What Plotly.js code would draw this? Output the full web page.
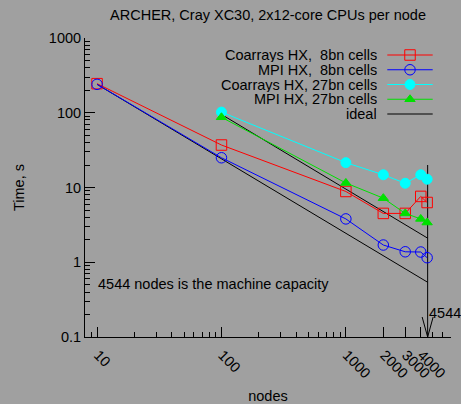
<!DOCTYPE html>
<html><head><meta charset="utf-8">
<script src="https://cdn.plot.ly/plotly-3.0.1.min.js"></script>
<style>html,body{margin:0;padding:0;background:#a0a0a0;}#chart{width:461px;height:404px;}</style>
</head><body><div id="chart"></div>
<script>
// ---- data ----
const nodes8 = [10, 100, 1000, 2000, 3000, 4000, 4500];
const coarrays8 = [245, 37, 8.85, 4.5, 4.5, 7.6, 6.3];
const mpi8 = [240, 25, 3.8, 1.7, 1.38, 1.37, 1.15];
const nodes27 = [100, 1000, 2000, 3000, 4000, 4500];
const coarrays27 = [102, 21.5, 14.8, 11.4, 14.8, 12.9];
const mpi27 = [87, 11.5, 7.2, 4.5, 3.8, 3.4];
const ideal8Nodes = [10, 4544];
const ideal8Time = [240, 0.54];
const ideal27Nodes = [100, 4544];
const ideal27Time = [95, 2.1];
const capacityNodes = [4544, 4544];
const capacityTime = [20, 0.1];
const seriesNames = ['Coarrays HX,\u00a0\u00a08bn cells', 'MPI HX,\u00a0\u00a08bn cells',
                     'Coarrays HX, 27bn cells', 'MPI HX, 27bn cells', 'ideal'];
const xTickVals = [10, 100, 1000, 2000, 3000, 4000];
const xTickText = ['10', '100', '1000', '2000', '3000', '4000'];
const xMinorVals = [9, 20, 30, 40, 50, 60, 70, 80, 90, 200, 300, 400, 500, 600, 700, 800, 900, 5000, 6000, 7000];
const yTickVals = [0.1, 1, 10, 100, 1000];
const yTickText = ['0.1', '1', '10', '100', '1000'];
const yMinorVals = [0.2, 0.3, 0.4, 0.5, 0.6, 0.7, 0.8, 0.9, 2, 3, 4, 5, 6, 7, 8, 9,
                    20, 30, 40, 50, 60, 70, 80, 90, 200, 300, 400, 500, 600, 700, 800, 900];
const capacityLabel = '4544';
const capacityNote = '4544 nodes is the machine capacity';
const titleText = 'ARCHER, Cray XC30, 2x12-core CPUs per node';

// ---- styles ----
const FONT = 'Liberation Sans, Arial, Helvetica, sans-serif';
const FS = 14.5;
const BG = '#a0a0a0';
const RED = '#ff0000', BLUE = '#0000ff', CYAN = '#00ffff', GREEN = '#00e000', BLACK = '#000000';
const styles = [
  {color: RED, symbol: 'square-open', size: 10.5, shape: 'rect', fill: false},
  {color: BLUE, symbol: 'circle-open', size: 10.5, shape: 'circle', fill: false},
  {color: CYAN, symbol: 'circle', size: 10, shape: 'circle', fill: true},
  {color: GREEN, symbol: 'triangle-up', size: 9, shape: 'tri', fill: true},
  {color: BLACK, symbol: null}
];

const M = {l: 85, r: 10, t: 38, b: 67};
const W = 461 - M.l - M.r, H = 404 - M.t - M.b;
const pxX = px => (px - M.l) / W;
const pxY = py => (404 - M.b - py) / H;

function series(x, y, st) {
  return {x: x, y: y, type: 'scatter', mode: 'lines+markers', showlegend: false,
    line: {color: st.color, width: 1},
    marker: {symbol: st.symbol, size: st.size, color: st.color,
             line: {color: st.color, width: 1}}};
}
function plainLine(x, y) {
  return {x: x, y: y, type: 'scatter', mode: 'lines', showlegend: false,
    line: {color: BLACK, width: 1}, hoverinfo: 'skip'};
}

const traces = [
  plainLine(ideal8Nodes, ideal8Time),
  plainLine(ideal27Nodes, ideal27Time),
  plainLine(capacityNodes, capacityTime),
  series(nodes8, coarrays8, styles[0]),
  series(nodes8, mpi8, styles[1]),
  series(nodes27, coarrays27, styles[2]),
  series(nodes27, mpi27, styles[3])
];

// ---- custom legend (text right, sample on right, as in the reference) ----
const shapes = [];
const annotations = [];
const legTop = 55, legStep = 14.75, legTextRight = 378.3, legL0 = 387.3, legL1 = 432.7, legMid = 410;
seriesNames.forEach((name, i) => {
  const yy = pxY(legTop + i * legStep);
  const st = styles[i];
  annotations.push({xref: 'paper', yref: 'paper', x: pxX(legTextRight), y: yy,
    xanchor: 'right', yanchor: 'middle', text: name, showarrow: false,
    height: 14, borderpad: 0,
    font: {family: FONT, size: FS, color: BLACK}});
  shapes.push({type: 'line', xref: 'paper', yref: 'paper', x0: pxX(legL0), x1: pxX(legL1), y0: yy, y1: yy,
    line: {color: st.color, width: 1}});
  if (st.symbol) {
    const r = st.size / 2;
    const common = {xref: 'paper', yref: 'paper', xsizemode: 'pixel', ysizemode: 'pixel',
      xanchor: pxX(legMid), yanchor: yy, line: {color: st.color, width: 1},
      fillcolor: st.fill ? st.color : 'rgba(0,0,0,0)'};
    if (st.shape === 'tri') {
      const rt = r * 2 / Math.sqrt(3), r2 = r / 2;
      shapes.push(Object.assign({type: 'path', path: `M${-rt},${-r2} L${rt},${-r2} L0,${r} Z`}, common));
    } else {
      shapes.push(Object.assign({type: st.shape, x0: -r, x1: r, y0: -r, y1: r}, common));
    }
  }
});

// arrow head at the machine capacity line
shapes.push({type: 'path', xref: 'x', yref: 'y', xsizemode: 'pixel', ysizemode: 'pixel',
  xanchor: capacityNodes[1], yanchor: capacityTime[1],
  path: 'M-5.5,20 L0,0 L5.5,20', line: {color: BLACK, width: 1}});

annotations.push({xref: 'x', yref: 'y', x: Math.log10(capacityNodes[0]), y: Math.log10(0.207),
  xanchor: 'left', yanchor: 'middle', text: capacityLabel, showarrow: false, xshift: -1,
  font: {family: FONT, size: FS, color: BLACK}});
annotations.push({xref: 'x', yref: 'y', x: Math.log10(10), y: Math.log10(0.505),
  xanchor: 'left', yanchor: 'middle', text: capacityNote, showarrow: false, xshift: -1,
  font: {family: FONT, size: FS, color: BLACK}});

const axisCommon = {type: 'log', showgrid: false, zeroline: false, showline: true,
  linecolor: BLACK, linewidth: 1, ticks: 'inside', ticklen: 10, tickwidth: 1, tickcolor: BLACK,
  tickmode: 'array', mirror: false,
  tickfont: {family: FONT, size: FS, color: BLACK}};

const layout = {
  width: 461, height: 404, margin: M,
  paper_bgcolor: BG, plot_bgcolor: BG,
  font: {family: FONT, size: FS, color: BLACK},
  title: {text: titleText, x: 0.5, xref: 'paper', y: 1 - 15 / 404, yref: 'container',
          xanchor: 'center', yanchor: 'middle', font: {family: FONT, size: FS, color: BLACK}},
  xaxis: Object.assign({}, axisCommon, {
    range: [Math.log10(8), Math.log10(7000)],
    tickvals: xTickVals, ticktext: xTickText, tickangle: 45,
    ticklabelstandoff: 3, ticklabelshift: 1,
    minor: {tickmode: 'array', tickvals: xMinorVals, ticks: 'inside', ticklen: 5, tickcolor: BLACK, tickwidth: 1, showgrid: false},
    title: {text: 'nodes', font: {family: FONT, size: FS, color: BLACK}, standoff: 26}
  }),
  yaxis: Object.assign({}, axisCommon, {
    range: [-1, 3],
    tickvals: yTickVals, ticktext: yTickText,
    minor: {tickmode: 'array', tickvals: yMinorVals, ticks: 'inside', ticklen: 5, tickcolor: BLACK, tickwidth: 1, showgrid: false},
    title: {text: 'Time, s', font: {family: FONT, size: FS, color: BLACK}, standoff: 20}
  }),
  shapes: shapes,
  annotations: annotations,
  showlegend: false
};

Plotly.newPlot('chart', traces, layout, {staticPlot: true, displayModeBar: false});
</script>
</body></html>
